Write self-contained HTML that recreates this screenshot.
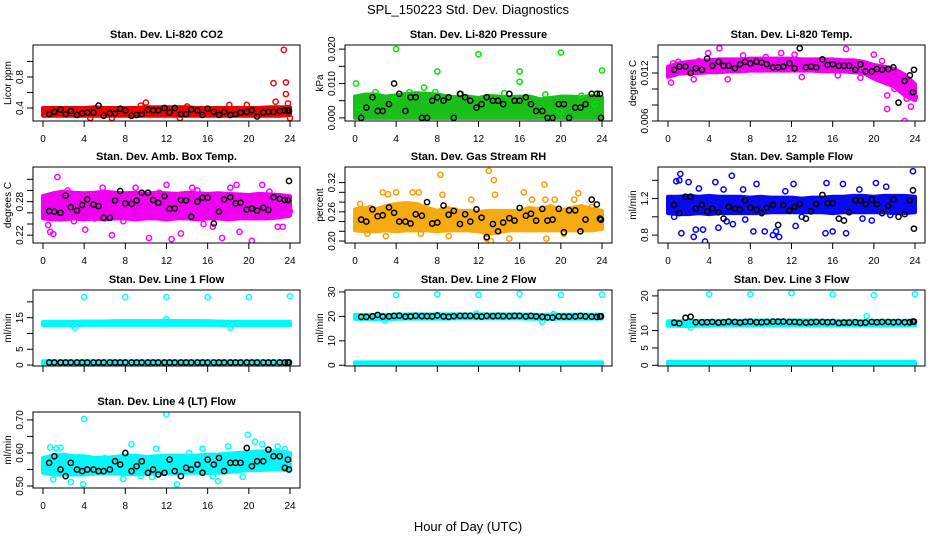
<!DOCTYPE html>
<html><head><meta charset="utf-8"><style>
html,body{margin:0;padding:0;background:#fff;}
svg{display:block;font-family:"Liberation Sans",Arial,sans-serif;}
</style></head><body>
<svg id="chart" width="936" height="540" viewBox="0 0 936 540" xmlns="http://www.w3.org/2000/svg">
<text x="468" y="14" font-size="13" text-anchor="middle">SPL_150223  Std. Dev. Diagnostics</text>
<text x="468" y="531" font-size="13" text-anchor="middle">Hour of Day (UTC)</text>
</svg>
<script>
// shared black-series hours
const blackHours=[0.6,1.1,1.7,2.2,2.7,3.3,3.8,4.3,4.9,5.4,5.9,6.5,7.0,7.5,8.0,8.6,9.1,9.6,10.2,10.7,11.2,11.8,12.3,12.8,13.4,13.9,14.4,15.0,15.5,16.0,16.6,17.1,17.6,18.2,18.7,19.2,19.8,20.3,20.8,21.4,21.9,22.4,23.0,23.5,23.8,23.9];
const bandHours=[0,1,2,3,4,5,6,7,8,9,10,11,12,13,14,15,16,17,18,19,20,21,22,23,24];
const xTicks=[0,4,8,12,16,20,24];

const co2Black=[0.32,0.35,0.38,0.32,0.36,0.31,0.33,0.34,0.34,0.43,0.30,0.33,0.33,0.39,0.37,0.30,0.31,0.32,0.38,0.37,0.37,0.40,0.34,0.40,0.32,0.32,0.38,0.37,0.31,0.39,0.35,0.31,0.35,0.31,0.32,0.34,0.35,0.37,0.29,0.34,0.35,0.35,0.36,0.37,0.37,0.36];
const co2Lo=[0.30,0.30,0.30,0.30,0.30,0.30,0.30,0.30,0.30,0.30,0.30,0.30,0.30,0.30,0.30,0.30,0.30,0.30,0.30,0.30,0.30,0.30,0.30,0.30,0.31];
const co2Hi=[0.40,0.40,0.40,0.40,0.40,0.41,0.40,0.40,0.40,0.40,0.41,0.41,0.41,0.41,0.41,0.40,0.40,0.40,0.40,0.40,0.40,0.40,0.41,0.41,0.41];
const co2Out=[[10,0.47],[22.4,0.72],[22.6,0.48],[23.4,1.15],[23.6,0.73],[23.6,0.58],[23.8,0.46],[24,0.27],[18.1,0.44],[19.8,0.44],[4.6,0.27],[6.7,0.27],[13.3,0.27],[9.5,0.43],[14,0.42]];

const presBlack=[0.000,0.003,0.006,0.002,0.002,0.004,0.010,0.007,0.002,0.006,0.006,0.000,0.000,0.005,0.006,0.005,0.006,0.000,0.007,0.006,0.005,0.003,0.004,0.006,0.005,0.005,0.004,0.007,0.005,0.005,0.006,0.004,0.002,0.002,0.000,0.000,0.004,0.004,0.000,0.003,0.003,0.004,0.007,0.007,0.007,0.000];
const presLo=[0,0,0,0,0,0,0,0,0,0,0,0,0,0,0,0,0,0,0,0,0,0,0,0,0];
const presHi=[0.0062,0.0068,0.0068,0.0062,0.0066,0.0070,0.0072,0.0070,0.0068,0.0062,0.0060,0.0062,0.0058,0.0064,0.0062,0.0060,0.0062,0.0062,0.0054,0.0058,0.0062,0.0062,0.0060,0.0064,0.0060];
const presOut=[[0.1,0.010],[4,0.020],[8,0.0135],[12,0.0185],[16,0.0135],[16,0.0105],[20,0.019],[24,0.0138],[6.7,0.0088],[2,0.0075],[5.3,0.0075],[7.8,0.0075],[10.3,0.007],[14.5,0.0072],[18.5,0.0068],[22,0.0065],[0.4,0.003],[19.9,0.0018],[23.3,0.004],[3.8,0.0055]];

const tempBlack=[0.0124,0.0128,0.0128,0.0120,0.0126,0.0124,0.0138,0.0129,0.0134,0.0129,0.0129,0.0126,0.0131,0.0134,0.0132,0.0134,0.0133,0.0131,0.0127,0.0127,0.0128,0.0132,0.0126,0.0151,0.0127,0.0128,0.0127,0.0137,0.0130,0.0131,0.0129,0.0129,0.0129,0.0124,0.0131,0.0122,0.0122,0.0125,0.0124,0.0125,0.0127,0.0083,0.0110,0.0117,0.0096,0.0124];
const tempLo=[0.0115,0.0119,0.0120,0.0120,0.0121,0.0121,0.0122,0.0122,0.0123,0.0123,0.0123,0.0123,0.0123,0.0123,0.0123,0.0122,0.0122,0.0122,0.0121,0.0120,0.0113,0.0108,0.0103,0.0092,0.0086];
const tempHi=[0.0128,0.0132,0.0134,0.0135,0.0136,0.0137,0.0137,0.0137,0.0138,0.0138,0.0138,0.0138,0.0138,0.0137,0.0137,0.0137,0.0137,0.0136,0.0136,0.0134,0.0130,0.0128,0.0125,0.0118,0.0106];
const tempOut=[[0.3,0.0108],[0.5,0.0132],[5,0.0151],[3.9,0.0145],[7.3,0.0142],[11,0.0145],[12.3,0.0143],[17.3,0.0150],[20,0.0143],[20.8,0.0135],[18.7,0.0114],[21.3,0.0092],[21.3,0.0075],[22,0.0100],[23,0.0060],[23.2,0.0088],[23.6,0.0078],[24,0.0090],[2.5,0.0112],[5.8,0.0112],[13,0.0115],[16.5,0.0117],[9.5,0.0140],[1,0.0134],[3,0.0135]];

const ambBlack=[0.263,0.262,0.260,0.291,0.270,0.264,0.274,0.284,0.275,0.272,0.251,0.251,0.282,0.299,0.277,0.276,0.282,0.296,0.296,0.283,0.278,0.290,0.267,0.268,0.283,0.282,0.253,0.280,0.287,0.287,0.241,0.262,0.284,0.288,0.277,0.278,0.266,0.268,0.264,0.269,0.265,0.288,0.285,0.283,0.283,0.317];
const ambLo=[0.250,0.248,0.248,0.250,0.248,0.250,0.248,0.250,0.250,0.248,0.250,0.250,0.248,0.250,0.250,0.248,0.250,0.250,0.248,0.250,0.250,0.250,0.250,0.252,0.255];
const ambHi=[0.290,0.295,0.298,0.296,0.295,0.296,0.298,0.296,0.295,0.296,0.294,0.296,0.295,0.294,0.296,0.295,0.294,0.295,0.294,0.293,0.292,0.294,0.293,0.292,0.290];
const ambOut=[[1.4,0.324],[0.5,0.238],[0.7,0.226],[1,0.222],[3.2,0.290],[4.1,0.230],[5.8,0.305],[6.7,0.22],[8.3,0.260],[10.3,0.215],[11.3,0.296],[12.5,0.213],[13.4,0.223],[14.5,0.305],[15.6,0.240],[16.5,0.235],[17.4,0.215],[18.2,0.305],[19.1,0.226],[20.3,0.210],[21.3,0.310],[22,0.298],[22.8,0.235],[23.3,0.235],[24,0.263],[3,0.245],[9,0.305],[2.4,0.300],[7.8,0.245],[15,0.3],[12,0.31],[5,0.25],[18.8,0.31]];

const rhBlack=[0.244,0.240,0.265,0.251,0.253,0.269,0.258,0.240,0.240,0.236,0.255,0.252,0.280,0.236,0.238,0.273,0.254,0.262,0.235,0.255,0.240,0.265,0.248,0.208,0.235,0.220,0.238,0.247,0.242,0.268,0.252,0.256,0.242,0.266,0.242,0.244,0.266,0.218,0.263,0.263,0.220,0.244,0.285,0.275,0.246,0.244];
const rhLo=[0.222,0.220,0.220,0.222,0.220,0.222,0.222,0.222,0.220,0.222,0.222,0.222,0.220,0.215,0.218,0.222,0.222,0.222,0.222,0.222,0.222,0.222,0.222,0.222,0.225];
const rhHi=[0.265,0.268,0.265,0.272,0.276,0.278,0.276,0.268,0.262,0.268,0.262,0.262,0.260,0.262,0.262,0.262,0.262,0.268,0.265,0.272,0.262,0.268,0.272,0.266,0.262];
const rhOut=[[0.5,0.276],[1.5,0.268],[2.7,0.300],[3.2,0.296],[4,0.300],[5.6,0.300],[6.2,0.300],[8.3,0.336],[8.5,0.295],[9.8,0.262],[11.3,0.285],[13,0.344],[13.5,0.325],[13.6,0.295],[16.4,0.300],[17.2,0.285],[18.4,0.316],[18.5,0.285],[19.4,0.285],[21.7,0.298],[21.3,0.285],[12.8,0.205],[13.2,0.200],[9.1,0.210],[3,0.210],[18.6,0.205],[1.2,0.215],[6.4,0.215],[20.3,0.215],[15,0.205],[23,0.270]];

const sampBlack=[1.13,1.04,1.22,1.22,1.09,1.13,1.06,1.09,1.05,0.98,1.11,1.09,1.08,1.18,1.10,1.08,1.04,1.10,1.13,0.91,1.13,1.07,1.11,1.14,0.98,1.06,1.14,1.24,1.15,1.15,0.98,0.96,1.05,1.18,1.18,1.14,1.19,1.14,1.04,1.12,1.19,1.00,1.03,1.18,1.29,0.87];
const sampLo=[1.04,1.03,1.03,1.04,1.03,1.04,1.04,1.04,1.04,1.04,1.05,1.05,1.05,1.05,1.05,1.05,1.04,1.05,1.05,1.05,1.05,1.05,1.04,1.04,1.05];
const sampHi=[1.22,1.22,1.23,1.22,1.23,1.22,1.22,1.22,1.21,1.22,1.21,1.21,1.21,1.20,1.21,1.21,1.22,1.22,1.23,1.23,1.22,1.23,1.23,1.23,1.22];
const sampOut=[[1.2,1.47],[0.8,1.39],[1.1,1.40],[2,1.38],[3,1.31],[4.6,1.38],[5.4,1.30],[6.2,1.45],[7.3,1.30],[8.6,1.36],[11.4,1.28],[12.2,1.36],[15.4,1.37],[17,1.36],[18.6,1.30],[20.2,1.37],[21.2,1.33],[23.8,1.50],[0.6,1.00],[1.3,0.82],[2.5,0.78],[2.7,0.86],[3.4,0.86],[3.6,0.73],[4.9,0.88],[6.3,0.92],[8.3,0.84],[9.4,0.84],[10.2,0.80],[10.5,0.84],[10.8,0.78],[12.4,0.90],[15.3,0.82],[16,0.84],[17.3,0.82],[18.9,0.98],[21.6,1.02],[13,1.0],[7.5,0.97],[5.7,0.95],[19.8,0.96]];

const l1Black=[0.8,0.8,0.8,0.8,0.8,0.8,0.8,0.8,0.8,0.8,0.8,0.8,0.8,0.8,0.8,0.8,0.8,0.8,0.8,0.8,0.8,0.8,0.8,0.8,0.8,0.8,0.8,0.8,0.8,0.8,0.8,0.8,0.8,0.8,0.8,0.8,0.8,0.8,0.8,0.8,0.8,0.8,0.8,0.8,0.8,0.8];
const l1Lo=[12.6,12.6,12.6,12.6,12.7,12.7,12.7,12.7,12.7,12.7,12.7,12.7,12.7,12.7,12.7,12.7,12.7,12.7,12.6,12.6,12.6,12.6,12.6,12.6,12.6];
const l1Hi=[13.6,13.7,13.7,13.7,13.8,13.8,13.8,13.9,13.9,13.9,13.9,13.9,14.0,13.9,13.9,13.9,13.9,13.8,13.7,13.7,13.7,13.7,13.7,13.7,13.7];
const l1Lo2=[0.3,0.3,0.3,0.3,0.3,0.3,0.3,0.3,0.3,0.3,0.3,0.3,0.3,0.3,0.3,0.3,0.3,0.3,0.3,0.3,0.3,0.3,0.3,0.3,0.3];
const l1Hi2=[1.2,1.2,1.2,1.2,1.2,1.2,1.2,1.2,1.2,1.2,1.2,1.2,1.2,1.2,1.2,1.2,1.2,1.2,1.2,1.2,1.2,1.2,1.2,1.2,1.2];
const l1Out=[[4,21.5],[8,21.5],[12,21.5],[16,21.5],[20,21.5],[24,21.8],[3.1,11.8],[18.2,11.8],[12,14.5]];

const l2Black=[19.8,19.8,20.0,20.6,19.9,20.0,20.2,20.3,19.9,20.0,20.2,20.1,20.1,20.0,20.4,20.0,19.8,20.1,20.2,20.2,20.2,20.1,19.9,20.2,20.1,20.2,20.1,20.1,20.2,20.2,20.0,20.2,20.0,19.8,19.6,19.5,20.0,19.9,19.9,20.0,20.2,20.0,19.9,19.8,20.0,20.0];
const l2Lo=[19.0,19.0,18.9,18.9,19.0,19.1,19.1,19.1,19.1,19.1,19.2,19.2,19.2,19.2,19.2,19.2,19.2,19.1,19.0,19.0,19.1,19.1,19.1,19.1,19.1];
const l2Hi=[20.6,20.6,20.6,20.6,20.7,20.8,20.8,20.8,20.8,20.8,20.8,20.8,20.9,20.8,20.8,20.8,20.8,20.7,20.6,20.7,20.7,20.7,20.7,20.7,20.7];
const l2Lo2=[0,0,0,0,0,0,0,0,0,0,0,0,0,0,0,0,0,0,0,0,0,0,0,0,0];
const l2Hi2=[1.2,1.2,1.2,1.2,1.2,1.2,1.2,1.2,1.2,1.2,1.2,1.2,1.2,1.2,1.2,1.2,1.2,1.2,1.2,1.2,1.2,1.2,1.2,1.2,1.2];
const l2Out=[[4,28.7],[8,29.1],[12,28.8],[16,29.2],[20,28.8],[24,28.9],[2.9,18.3],[18.2,17.8],[19.3,21],[11.8,21.2]];

const l3Black=[12.3,12.1,13.7,14.0,12.4,12.4,12.4,12.5,12.3,12.4,12.6,12.5,12.3,12.5,12.6,12.4,12.4,12.5,12.6,12.6,12.6,12.5,12.5,12.4,12.3,12.4,12.5,12.5,12.4,12.5,12.2,12.3,12.3,12.4,12.2,12.3,12.5,12.4,12.5,12.5,12.4,12.5,12.4,12.4,12.6,12.6];
const l3Lo=[11.4,11.4,11.3,11.4,11.4,11.5,11.5,11.5,11.5,11.5,11.5,11.5,11.6,11.5,11.5,11.5,11.5,11.5,11.5,11.5,11.5,11.5,11.5,11.5,11.5];
const l3Hi=[12.7,12.7,12.7,12.8,12.8,12.8,12.8,12.8,12.9,12.9,12.9,12.9,12.9,12.9,12.9,12.8,12.8,12.8,12.8,12.8,12.8,12.8,12.8,12.8,12.9];
const l3Lo2=[0.1,0.1,0.1,0.1,0.1,0.1,0.1,0.1,0.1,0.1,0.1,0.1,0.1,0.1,0.1,0.1,0.1,0.1,0.1,0.1,0.1,0.1,0.1,0.1,0.1];
const l3Hi2=[1.0,1.0,1.0,1.0,1.0,1.0,1.0,1.0,1.0,1.0,1.0,1.0,1.0,1.0,1.0,1.0,1.0,1.0,1.0,1.0,1.0,1.0,1.0,1.0,1.0];
const l3Out=[[4,20.5],[8,20.5],[12,20.8],[16,20.4],[20,20.2],[24,20.5],[19.3,14.2],[2.2,10.9]];

const l4Black=[0.57,0.59,0.55,0.53,0.57,0.55,0.545,0.55,0.55,0.545,0.545,0.55,0.575,0.565,0.60,0.545,0.56,0.575,0.54,0.55,0.535,0.54,0.58,0.545,0.53,0.555,0.55,0.565,0.54,0.58,0.565,0.585,0.545,0.57,0.57,0.57,0.615,0.56,0.575,0.575,0.61,0.59,0.59,0.555,0.58,0.55];
const l4Lo=[0.540,0.535,0.535,0.535,0.535,0.538,0.538,0.538,0.536,0.536,0.536,0.538,0.538,0.538,0.540,0.540,0.540,0.540,0.542,0.545,0.548,0.548,0.550,0.550,0.548];
const l4Hi=[0.585,0.592,0.595,0.590,0.590,0.585,0.585,0.588,0.592,0.592,0.588,0.590,0.592,0.592,0.592,0.592,0.595,0.595,0.598,0.600,0.602,0.605,0.605,0.605,0.600];
const l4Out=[[4,0.703],[12,0.718],[19.9,0.655],[20.6,0.634],[21.3,0.626],[1,0.520],[3.9,0.505],[13,0.505],[8.6,0.626],[17,0.515],[2.7,0.512],[0.7,0.617],[1.3,0.614],[1.7,0.616],[7.8,0.522],[11,0.613],[15.5,0.613],[18,0.62],[19.4,0.528],[22.8,0.62],[23.5,0.612],[14.2,0.6],[6,0.585],[9.5,0.53],[10.6,0.527],[16.5,0.53]];

const NS='http://www.w3.org/2000/svg';
const svg=document.getElementById('chart');
function mk(tag,attrs,parent){const e=document.createElementNS(NS,tag);for(const k in attrs)e.setAttribute(k,attrs[k]);(parent||svg).appendChild(e);return e;}

const panels=[
 {key:'co2',title:'Stan. Dev. Li-820 CO2',ylab:'Licor ppm',col:0,row:0,dom:[0.232,1.213],ticks:[0.4,0.6,0.8,1.0],labels:['0.4','','0.8',''],color:'#ff0000',fill:'#f00000',bands:[[co2Lo,co2Hi]],out:co2Out,black:co2Black,xl:true},
 {key:'pressure',title:'Stan. Dev. Li-820 Pressure',ylab:'kPa',col:1,row:0,dom:[-0.0009,0.0212],ticks:[0,0.005,0.01,0.015,0.02],labels:['0.000','','0.010','','0.020'],color:'#00e600',fill:'#19c019',bands:[[presLo,presHi]],out:presOut,black:presBlack,xl:true},
 {key:'temp',title:'Stan. Dev. Li-820 Temp.',ylab:'degrees C',col:2,row:0,dom:[0.006,0.0155],ticks:[0.006,0.008,0.010,0.012,0.014],labels:['0.006','','','0.012',''],color:'#ff00ff',fill:'#f000f0',bands:[[tempLo,tempHi]],out:tempOut,black:tempBlack,xl:true},
 {key:'ambbox',title:'Stan. Dev. Amb. Box Temp.',ylab:'degrees C',col:0,row:1,dom:[0.206,0.342],ticks:[0.22,0.24,0.26,0.28,0.30,0.32],labels:['0.22','','','0.28','',''],color:'#ff00ff',fill:'#f000f0',bands:[[ambLo,ambHi]],out:ambOut,black:ambBlack,xl:true},
 {key:'rh',title:'Stan. Dev. Gas Stream RH',ylab:'percent',col:1,row:1,dom:[0.196,0.352],ticks:[0.20,0.22,0.24,0.26,0.28,0.30,0.32],labels:['0.20','','','0.26','','','0.32'],color:'#ff9900',fill:'#f5aa10',bands:[[rhLo,rhHi]],out:rhOut,black:rhBlack,xl:true},
 {key:'sample',title:'Stan. Dev. Sample Flow',ylab:'ml/min',col:2,row:1,dom:[0.713,1.546],ticks:[0.8,1.0,1.2,1.4],labels:['0.8','','1.2',''],color:'#0000ff',fill:'#0a0af0',bands:[[sampLo,sampHi]],out:sampOut,black:sampBlack,xl:true},
 {key:'line1',title:'Stan. Dev. Line 1 Flow',ylab:'ml/min',col:0,row:2,dom:[-0.3,23.75],ticks:[0,5,10,15,20],labels:['0','5','','15',''],color:'#00ffff',fill:'#00f8f8',bands:[[l1Lo,l1Hi],[l1Lo2,l1Hi2]],out:l1Out,black:l1Black,xl:false},
 {key:'line2',title:'Stan. Dev. Line 2 Flow',ylab:'ml/min',col:1,row:2,dom:[-0.3,30.8],ticks:[0,10,20,30],labels:['0','10','20','30'],color:'#00ffff',fill:'#00f8f8',bands:[[l2Lo,l2Hi],[l2Lo2,l2Hi2]],out:l2Out,black:l2Black,xl:false},
 {key:'line3',title:'Stan. Dev. Line 3 Flow',ylab:'ml/min',col:2,row:2,dom:[-0.2,21.7],ticks:[0,5,10,15,20],labels:['0','5','10','','20'],color:'#00ffff',fill:'#00f8f8',bands:[[l3Lo,l3Hi],[l3Lo2,l3Hi2]],out:l3Out,black:l3Black,xl:false},
 {key:'line4',title:'Stan. Dev. Line 4 (LT) Flow',ylab:'ml/min',col:0,row:3,dom:[0.494,0.724],ticks:[0.50,0.55,0.60,0.65,0.70],labels:['0.50','','0.60','','0.70'],color:'#00ffff',fill:'#00f8f8',bands:[[l4Lo,l4Hi]],out:l4Out,black:l4Black,xl:true}
];
const colX0=[43,355,668], rowTop=[45,167,290,412], H=76, XS=247/24;

panels.forEach(p=>{
 const g=mk('g',{});
 
 
 const x0=colX0[p.col], top=rowTop[p.row], bot=top+H;
 const L=x0-10, R=x0+257;
 const sx=h=>x0+h*XS;
 const sy=v=>bot-(v-p.dom[0])/(p.dom[1]-p.dom[0])*H;
 const clip='clip-'+p.key;
 const cp=mk('clipPath',{id:clip},g); mk('rect',{x:L,y:top,width:R-L,height:H},cp);
 const data=mk('g',{'clip-path':'url(#'+clip+')'},g);
 p.bands.forEach((b,bi)=>{
  let pts=[];
  bandHours.forEach((h,i)=>pts.push(sx(h)+','+sy(b[1][i])));
  for(let i=bandHours.length-1;i>=0;i--)pts.push(sx(bandHours[i])+','+sy(b[0][i]));
  const poly=mk('polygon',{points:pts.join(' '),fill:p.fill,stroke:p.fill,'stroke-width':4,'stroke-linejoin':'round'},data);
  
  
 });
 p.out.forEach(o=>{
  const c=mk('circle',{cx:sx(o[0]),cy:sy(o[1]),r:2.6,fill:'none',stroke:p.color,'stroke-width':1.5},data);
  
  
 });
 const n=Math.min(blackHours.length,p.black.length);
 for(let i=0;i<n;i++){
  const c=mk('circle',{cx:sx(blackHours[i]),cy:sy(p.black[i]),r:2.6,fill:'none',stroke:'#000','stroke-width':1.5},data);
  
  
 }
 const box=mk('rect',{x:L,y:top,width:R-L,height:H,fill:'none',stroke:'#000','stroke-width':1},g);
 
 
 const t=mk('text',{x:(L+R)/2,y:top-7,'font-size':11,'font-weight':'bold','text-anchor':'middle'},g);
 t.textContent=p.title;
 
 
 mk('line',{x1:sx(0),x2:sx(24),y1:bot,y2:bot,stroke:'#000'},g);
 xTicks.forEach(h=>{
  mk('line',{x1:sx(h),x2:sx(h),y1:bot,y2:bot+6,stroke:'#000'},g);
  if(p.xl){
   const tl=mk('text',{x:sx(h),y:bot+21,'font-size':10,'text-anchor':'middle'},g);
   tl.textContent=String(h);
   
   
  }
 });
 mk('line',{x1:L,x2:L,y1:sy(p.ticks[0]),y2:sy(p.ticks[p.ticks.length-1]),stroke:'#000'},g);
 p.ticks.forEach((v,i)=>{
  mk('line',{x1:L-6,x2:L,y1:sy(v),y2:sy(v),stroke:'#000'},g);
  if(p.labels[i]){
   const yl=mk('text',{x:0,y:0,'font-size':10,'text-anchor':'middle',transform:'translate('+(L-10)+','+sy(v)+') rotate(-90)'},g);
   yl.textContent=p.labels[i];
   
   
  }
 });
 const ya=mk('text',{x:0,y:0,'font-size':10,'text-anchor':'middle',transform:'translate('+(L-22)+','+(top+H/2)+') rotate(-90)'},g);
 ya.textContent=p.ylab;
 
 
});
</script>
</body></html>
